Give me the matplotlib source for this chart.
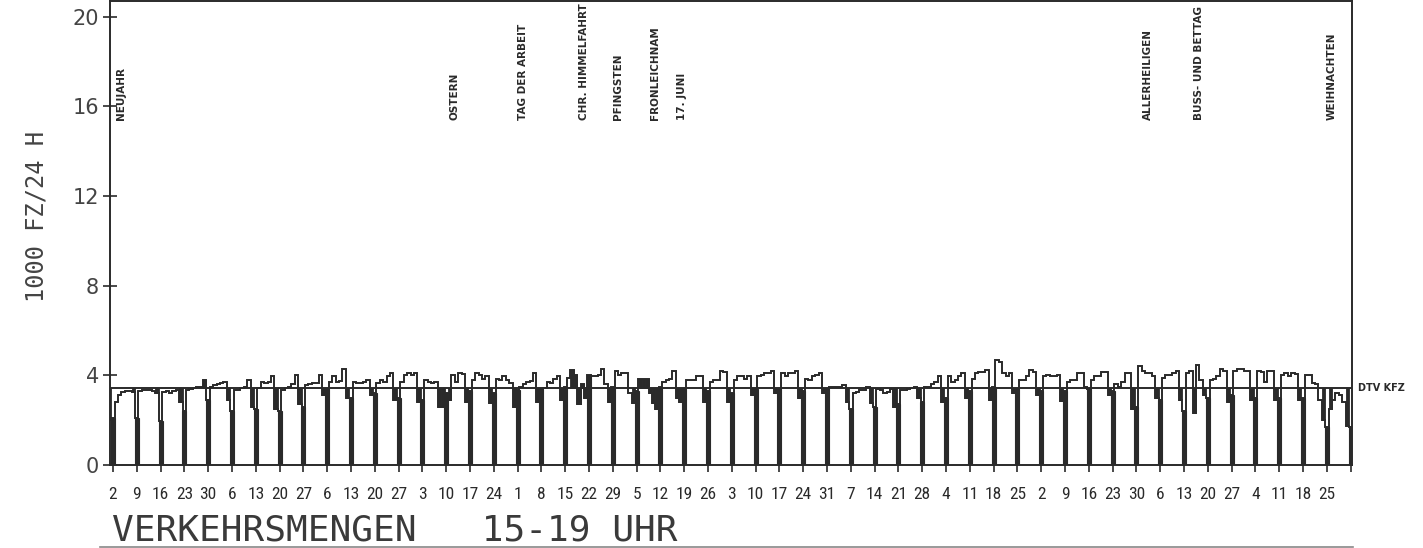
import datetime as dt

import matplotlib

matplotlib.use("Agg")
import matplotlib.pyplot as plt
import numpy as np
from matplotlib.lines import Line2D

# Daily traffic 15-19 h in 1000 vehicles, year 1977 (1 Jan is a Saturday)
jan = [2.0, 2.1, 2.8, 3.1, 3.25, 3.3, 3.3, 3.25, 2.1, 3.3, 3.35, 3.35, 3.35, 3.3, 3.2, 1.95,
       3.25, 3.3, 3.2, 3.3, 3.35, 2.8, 2.4, 3.35, 3.4, 3.45, 3.5, 3.5, 3.8, 2.9, 3.5]
feb = [3.55, 3.6, 3.65, 3.7, 2.9, 2.4, 3.35, 3.35, 3.45, 3.5, 3.8, 2.6, 2.5, 3.45,
       3.7, 3.65, 3.7, 3.95, 2.5, 2.4, 3.35, 3.45, 3.5, 3.6, 4.0, 2.7, 2.6, 3.55]
mar = [3.6, 3.65, 3.65, 4.0, 3.1, 3.4, 3.7, 3.95, 3.7, 3.75, 4.3, 3.0, 3.0, 3.7, 3.65, 3.65,
       3.7, 3.8, 3.1, 3.2, 3.65, 3.8, 3.7, 3.95, 4.1, 2.9, 3.0, 3.7, 4.0, 4.1, 4.0]
apr = [4.1, 2.8, 2.9, 3.8, 3.7, 3.65, 3.7, 2.6, 2.6, 3.2, 2.9, 4.0, 3.7, 4.1, 4.05,
       2.8, 3.3, 3.8, 4.1, 4.0, 3.85, 3.95, 2.75, 3.2, 3.85, 3.8, 3.95, 3.8, 3.65, 2.6]
may = [3.35, 3.5, 3.6, 3.7, 3.75, 4.1, 2.8, 3.4, 3.45, 3.7, 3.65, 3.85, 3.95, 2.9, 3.5, 3.9,
       4.25, 4.0, 2.7, 3.6, 3.0, 4.0, 3.95, 3.95, 4.0, 4.3, 3.6, 2.8, 3.5, 4.2, 4.0]
jun = [4.1, 4.1, 3.2, 2.75, 3.3, 3.85, 3.85, 3.85, 3.2, 2.75, 2.5, 3.5, 3.7, 3.8, 3.85,
       4.2, 3.0, 2.8, 3.4, 3.8, 3.8, 3.8, 3.95, 3.95, 2.8, 3.3, 3.7, 3.8, 3.8, 4.2]
jul = [4.15, 2.8, 3.2, 3.8, 3.95, 3.95, 3.85, 3.95, 3.1, 3.4, 3.95, 4.0, 4.1, 4.1, 4.2, 3.2,
       3.4, 4.1, 3.95, 4.1, 4.1, 4.2, 3.0, 3.3, 3.85, 3.8, 3.95, 4.0, 4.1, 3.2, 3.4]
aug = [3.5, 3.5, 3.5, 3.5, 3.55, 2.8, 2.5, 3.2, 3.25, 3.35, 3.35, 3.5, 2.75, 2.6, 3.4, 3.35,
       3.2, 3.25, 3.4, 2.6, 2.7, 3.35, 3.35, 3.4, 3.45, 3.5, 3.0, 2.8, 3.5, 3.5, 3.6]
sep = [3.7, 3.95, 2.8, 3.0, 3.95, 3.7, 3.8, 3.95, 4.1, 3.0, 3.3, 3.85, 4.1, 4.15, 4.15,
       4.25, 2.9, 3.5, 4.7, 4.6, 4.1, 3.95, 4.1, 3.2, 3.4, 3.8, 3.8, 3.95, 4.25, 4.15]
okt = [3.1, 3.3, 3.95, 4.0, 3.95, 3.95, 4.0, 2.85, 3.3, 3.7, 3.8, 3.8, 4.1, 4.1, 3.5, 3.4,
       3.8, 3.95, 3.95, 4.15, 4.15, 3.1, 3.3, 3.6, 3.5, 3.7, 4.1, 4.1, 2.5, 2.6, 4.4]
nov = [4.2, 4.1, 4.1, 3.95, 3.0, 2.9, 3.9, 4.0, 4.0, 4.1, 4.2, 2.9, 2.4, 4.1, 4.2,
       2.3, 4.45, 3.8, 3.1, 3.0, 3.8, 3.85, 3.95, 4.3, 4.2, 2.8, 3.1, 4.2, 4.3, 4.3]
dez = [4.2, 4.2, 2.9, 3.0, 4.2, 4.15, 3.7, 4.2, 4.2, 2.9, 3.0, 4.0, 4.1, 3.95, 4.1, 4.05,
       2.9, 3.0, 4.0, 4.0, 3.65, 3.6, 2.9, 2.0, 1.7, 2.5, 2.9, 3.2, 3.1, 2.8, 1.75]
jan_1978 = [1.7]

dtv = 3.42  # DTV KFZ

# holiday labels (month, day where the label sits, text)
# NEUJAHR is printed just right of the axis start
holidays = [
    (1, 3, "NEUJAHR"),
    (4, 11, "OSTERN"),
    (5, 1, "TAG DER ARBEIT"),
    (5, 19, "CHR. HIMMELFAHRT"),
    (5, 29, "PFINGSTEN"),
    (6, 9, "FRONLEICHNAM"),
    (6, 17, "17. JUNI"),
    (11, 1, "ALLERHEILIGEN"),
    (11, 16, "BUSS- UND BETTAG"),
    (12, 25, "WEIHNACHTEN"),
]
# extra shaded days (month, day) besides saturdays
shaded = [(1, 1), (4, 8), (4, 11), (5, 17), (5, 18), (5, 19), (5, 20), (6, 6), (6, 7),
          (6, 8), (6, 9), (6, 10), (6, 17), (11, 16), (12, 26)]

start = dt.date(1977, 1, 1)
values = np.array(jan + feb + mar + apr + may + jun + jul + aug + sep + okt + nov + dez + jan_1978)
dates = [start + dt.timedelta(days=i) for i in range(len(values))]
days = np.arange(len(values))


def day_index(m, d):
    return (dt.date(1977, m, d) - start).days


sundays = np.array([i for i, d in enumerate(dates) if d.weekday() == 6])
saturdays = [i for i, d in enumerate(dates) if d.weekday() == 5]
fill_days = sorted(set(saturdays) | {day_index(m, d) for m, d in shaded})

ink = "#2a2a2a"

fig = plt.figure(figsize=(14.23, 5.48), dpi=100)
ax = fig.add_axes([0.0773, 0.1515, 0.8728, 0.8467])

for d in fill_days:
    ax.fill_between([d - 0.5, d + 0.5], values[d], dtv, color=ink, lw=0.6, ec=ink)
ax.bar(sundays, values[sundays], width=1.15, color=ink, lw=0.8, ec=ink)
ax.stairs(values, days[0] - 0.5 + np.arange(len(values) + 1), baseline=None, color=ink, lw=1.4)
ax.axhline(dtv, color=ink, lw=1.4)

ax.text(1.005, dtv, "DTV KFZ", transform=ax.get_yaxis_transform(), va="center",
        ha="left", fontsize=7, fontweight="bold", color=ink)

for m, d, label in holidays:
    ax.text(day_index(m, d), 15.4, label, rotation=90, ha="left", va="bottom",
            fontsize=7.5, fontweight="bold", color=ink)

ax.set_xlim(0.12, 365.4)
ax.set_ylim(0, 20.7)

tick_labels = [str(dates[i].day) if dates[i].year == 1977 else "" for i in sundays]
ax.set_xticks(sundays)
ax.set_xticklabels(tick_labels)
ax.set_yticks([0, 4, 8, 12, 16, 20])
ax.tick_params(axis="x", direction="out", length=5, width=1.2, pad=11, labelsize=12.5,
               color=ink, labelcolor=ink)
ax.tick_params(axis="y", direction="inout", length=9.5, width=1.2, pad=3, labelsize=15,
               color=ink, labelcolor="#444444")
for lbl in ax.get_xticklabels():
    lbl.set_family(["Liberation Sans Narrow", "Roboto Condensed", "DejaVu Sans"])

for sp in ax.spines.values():
    sp.set_linewidth(1.4)
    sp.set_color(ink)

fig.text(37 / 1423, 1 - 217 / 548, "1000 FZ/24 H", rotation=90, ha="center", va="center",
         family="DejaVu Sans Mono", fontsize=17, color="#444444")
fig.text(112 / 1423, 0.5 / 548, "VERKEHRSMENGEN   15-19 UHR", family="DejaVu Sans Mono",
         fontsize=26, va="bottom", ha="left", color="#3a3a3a")
fig.add_artist(Line2D([100 / 1423, 1353 / 1423], [1.5 / 548, 1.5 / 548], color="#888888", lw=1.2))

fig.savefig("out.png", dpi=100)
